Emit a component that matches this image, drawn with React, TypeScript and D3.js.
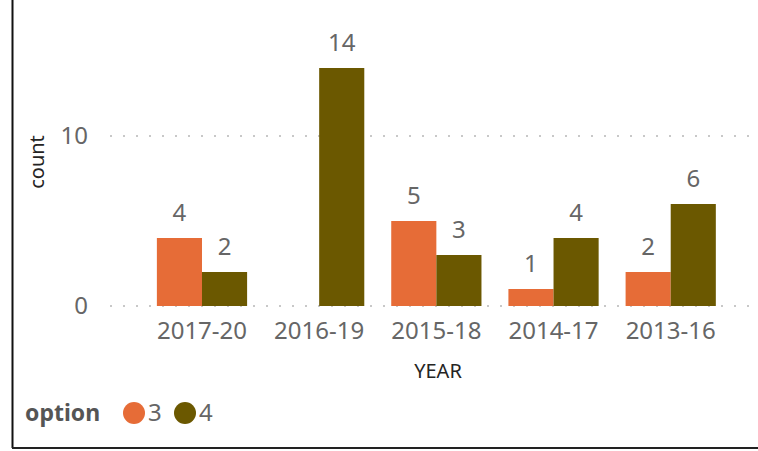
import * as d3 from 'd3'

const CATEGORIES = ['2017-20', '2016-19', '2015-18', '2014-17', '2013-16']
const OPTION_3: (number | null)[] = [4, null, 5, 1, 2]
const OPTION_4: (number | null)[] = [2, 14, 3, 4, 6]
const SERIES = [
  { key: '3', values: OPTION_3, color: '#E66C37' },
  { key: '4', values: OPTION_4, color: '#6B5800' },
]
const Y_TICKS = [0, 10]

const W = 758
const H = 451
const FONT = '"Noto Sans", "Open Sans", sans-serif'

export default function App() {
  const x = d3.scaleBand<string>().domain(CATEGORIES).range([143.4, 729.3]).paddingInner(0.23).paddingOuter(0.115)
  const x1 = d3.scaleBand<string>().domain(SERIES.map(s => s.key)).range([0, x.bandwidth()])
  const y = d3.scaleLinear().domain([0, 15]).range([306, 51])

  return (
    <svg width={W} height={H} style={{ position: 'absolute', left: 0, top: 0, background: '#fff' }}>
      {/* frame */}
      <line x1={12.5} x2={12.5} y1={0} y2={448} stroke="#111" strokeWidth={2} />
      <line x1={12} x2={W} y1={448} y2={448} stroke="#222" strokeWidth={2} />

      {/* gridlines */}
      {Y_TICKS.map(t => (
        <g key={t}>
          <line x1={110} x2={W} y1={y(t)} y2={y(t)} stroke="#c8c8c8" strokeWidth={2} strokeDasharray="2,11" />
          <text x={88} y={y(t)} dy="0.35em" textAnchor="end" fontSize={24} fill="#666" fontFamily={FONT}>{t}</text>
        </g>
      ))}

      {/* bars */}
      {CATEGORIES.map((c, i) => (
        <g key={c} transform={`translate(${x(c)},0)`}>
          {SERIES.map(s => {
            const v = s.values[i]
            if (v == null) return null
            const bx = x1(s.key)!
            return (
              <g key={s.key}>
                <rect x={bx} y={y(v)} width={x1.bandwidth()} height={y(0) - y(v)} fill={s.color} />
                <text x={bx + x1.bandwidth() / 2} y={y(v) - 17} textAnchor="middle" fontSize={24} fill="#666" fontFamily={FONT}>{v}</text>
              </g>
            )
          })}
          <text x={x.bandwidth() / 2} y={339} textAnchor="middle" fontSize={24} fill="#666" fontFamily={FONT}>{c}</text>
        </g>
      ))}

      {/* axis titles */}
      <text x={438} y={378} textAnchor="middle" fontSize={20} fill="#252423" fontFamily={FONT}>YEAR</text>
      <text transform="translate(44,162) rotate(-90)" textAnchor="middle" fontSize={20} fill="#252423" fontFamily={FONT}>count</text>

      {/* legend */}
      <text x={25} y={421} fontSize={23} fontWeight="bold" fill="#555" fontFamily={FONT}>option</text>
      {SERIES.map((s, i) => (
        <g key={s.key} transform={`translate(${134 + i * 51},413)`}>
          <circle r={11} fill={s.color} />
          <text x={14} y={0} dy="0.35em" fontSize={24} fill="#666" fontFamily={FONT}>{s.key}</text>
        </g>
      ))}
    </svg>
  )
}
